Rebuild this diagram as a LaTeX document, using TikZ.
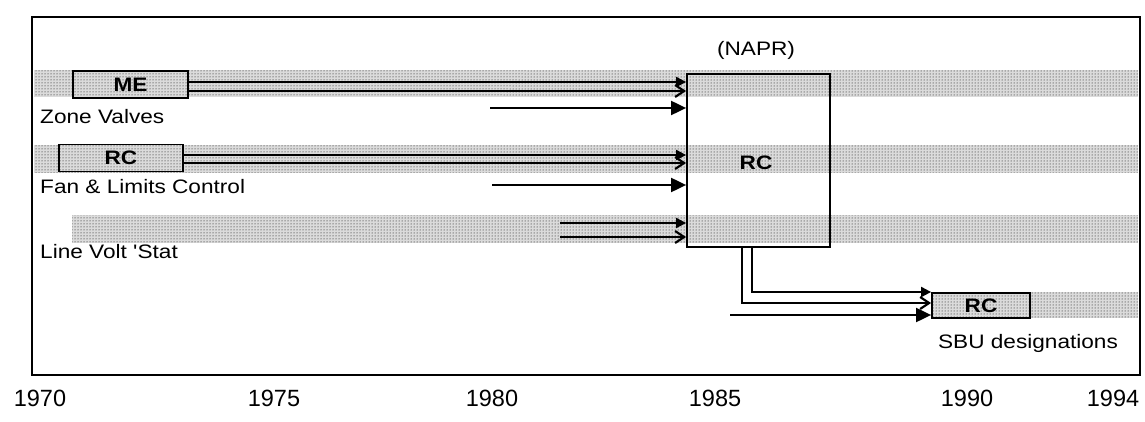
\documentclass[tikz,border=0pt]{standalone}
\usepackage{fontspec}
\setmainfont{Liberation Sans}
\usetikzlibrary{arrows.meta,patterns}
\newcommand{\wtxt}[1]{\scalebox{1.16}[1]{#1}}
\begin{document}
\begin{tikzpicture}[x=1pt,y=-1pt,
  lbl/.style={font=\fontsize{19.5}{22}\selectfont, inner sep=0pt},
  yr/.style={font=\fontsize{23.5}{26}\selectfont, inner sep=0pt},
  band/.style={preaction={fill=black!14}, pattern=dots, pattern color=black},
  tagbox/.style={draw, line width=1.8pt, preaction={fill=black!14}, pattern=dots, pattern color=black, inner sep=0pt, font=\fontsize{19.5}{22}\selectfont\bfseries},
  bigbox/.style={draw, line width=1.8pt, inner sep=0pt},
  conn/.style={line width=2pt},
  tipS/.style={conn, -{Triangle[length=10pt,width=10pt]}},
  tipO/.style={conn, -{Straight Barb[length=9pt,width=12pt,line width=2.2pt]}},
  tipL/.style={conn, -{Triangle[length=15pt,width=14pt]}},
]
\useasboundingbox (0,0) rectangle (1145,422);
% stippled bands
\path[band] (34,70) rectangle (1138,97);
\path[band] (34,145) rectangle (1138,173);
\path[band] (72,215) rectangle (1138,243);
\path[band] (1030,292) rectangle (1138,318);
% frame
\draw[line width=2.8pt] (32,17) rectangle (1140,375);
% boxes
\node[tagbox, minimum width=115pt, minimum height=27pt] (me) at (130.5,84.5) {\wtxt{ME}};
\node[tagbox, minimum width=124pt, minimum height=27pt] (rcA) at (121,158) {\wtxt{RC}};
\node[bigbox, minimum width=143pt, minimum height=173pt] (napr) at (758.5,160.5) {};
\node[lbl, font=\fontsize{19.5}{22}\selectfont\bfseries] (naprrc) at (756,163) {\wtxt{RC}};
\node[tagbox, minimum width=98pt, minimum height=25pt] (sbu) at (981,305.5) {\wtxt{RC}};
% labels
\node[lbl] (napt) at (756,50) {\wtxt{(NAPR)}};
\node[lbl, anchor=west] (zv) at (40,117) {\wtxt{Zone Valves}};
\node[lbl, anchor=west] (fl) at (40,187) {\wtxt{Fan \& Limits Control}};
\node[lbl, anchor=west] (lv) at (40,252) {\wtxt{Line Volt \textquotesingle Stat}};
\node[lbl] (sbut) at (1028,343) {\wtxt{SBU designations}};
% years
\node[yr] (y70) at (40,398) {1970};
\node[yr] (y75) at (274,398) {1975};
\node[yr] (y80) at (492,398) {1980};
\node[yr] (y85) at (715,398) {1985};
\node[yr] (y90) at (967,398) {1990};
\node[yr] (y94) at (1113,398) {1994};
% free ends
\coordinate (s1) at (490,108);
\coordinate (s2) at (492,185);
\coordinate (s3) at (560,223);
\coordinate (s4) at (560,237);
\coordinate (s5) at (730,315);
% row 1
\draw[tipS] (me.east |- 0,82) -- (napr.west |- 0,82);
\draw[tipO] (me.east |- 0,91) -- (napr.west |- 0,91);
\draw[tipL] (s1) -- (napr.west |- s1);
% row 2
\draw[tipS] (rcA.east |- 0,155) -- (napr.west |- 0,155);
\draw[tipO] (rcA.east |- 0,163) -- (napr.west |- 0,163);
\draw[tipL] (s2) -- (napr.west |- s2);
% row 3
\draw[tipS] (s3) -- (napr.west |- s3);
\draw[tipO] (s4) -- (napr.west |- s4);
% outputs
\draw[tipS] (napr.south -| 752,0) -- (752,292) -- (sbu.west |- 0,292);
\draw[tipO] (napr.south -| 742,0) -- (742,303) -- (sbu.west |- 0,303);
\draw[tipL] (s5) -- (sbu.west |- s5);
\end{tikzpicture}
\end{document}
